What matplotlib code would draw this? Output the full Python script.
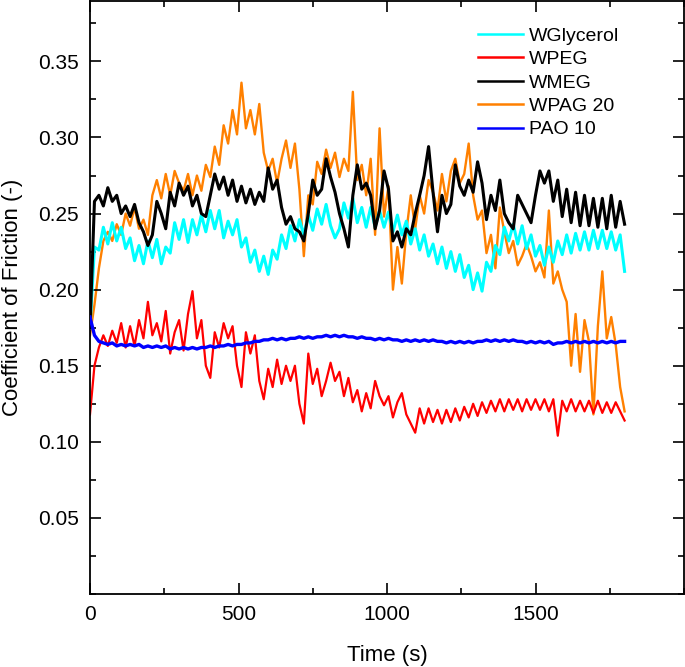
import numpy as np
import matplotlib
matplotlib.use("Agg")
import matplotlib.pyplot as plt
from matplotlib.ticker import MultipleLocator, FixedLocator

plt.rcParams['font.family'] = ['Liberation Sans', 'DejaVu Sans']

# values every 15 s, from 0 to 1800 s
wglycerol = [0.175, 0.228, 0.226, 0.241, 0.230, 0.244, 0.232, 0.241, 0.227, 0.234,
             0.219, 0.229, 0.217, 0.232, 0.221, 0.233, 0.217, 0.228, 0.224, 0.244,
             0.233, 0.246, 0.231, 0.246, 0.236, 0.249, 0.238, 0.252, 0.240, 0.252,
             0.234, 0.245, 0.236, 0.246, 0.228, 0.234, 0.218, 0.226, 0.212, 0.222,
             0.210, 0.226, 0.220, 0.236, 0.227, 0.242, 0.232, 0.246, 0.236, 0.249,
             0.239, 0.253, 0.243, 0.256, 0.242, 0.234, 0.240, 0.257, 0.247, 0.260,
             0.244, 0.254, 0.241, 0.254, 0.241, 0.252, 0.241, 0.251, 0.238, 0.249,
             0.236, 0.245, 0.230, 0.240, 0.226, 0.236, 0.222, 0.230, 0.217, 0.228,
             0.214, 0.225, 0.212, 0.223, 0.208, 0.216, 0.200, 0.211, 0.199, 0.218,
             0.212, 0.229, 0.223, 0.241, 0.232, 0.243, 0.230, 0.242, 0.227, 0.236,
             0.222, 0.229, 0.216, 0.228, 0.218, 0.232, 0.223, 0.236, 0.224, 0.237,
             0.226, 0.238, 0.226, 0.239, 0.227, 0.239, 0.227, 0.238, 0.226, 0.236,
             0.212]

wpeg = [0.118, 0.150, 0.162, 0.170, 0.163, 0.173, 0.165, 0.178, 0.162, 0.176,
        0.163, 0.180, 0.168, 0.192, 0.170, 0.178, 0.166, 0.186, 0.158, 0.172,
        0.180, 0.160, 0.184, 0.199, 0.168, 0.180, 0.150, 0.142, 0.172, 0.162,
        0.178, 0.168, 0.176, 0.150, 0.136, 0.172, 0.158, 0.170, 0.140, 0.128,
        0.148, 0.136, 0.154, 0.138, 0.150, 0.140, 0.150, 0.125, 0.112, 0.158,
        0.138, 0.148, 0.130, 0.140, 0.152, 0.140, 0.146, 0.130, 0.142, 0.126,
        0.134, 0.120, 0.132, 0.122, 0.140, 0.130, 0.124, 0.130, 0.116, 0.126,
        0.132, 0.118, 0.112, 0.106, 0.122, 0.112, 0.122, 0.113, 0.121, 0.112,
        0.121, 0.113, 0.122, 0.114, 0.123, 0.116, 0.125, 0.117, 0.126, 0.119,
        0.127, 0.120, 0.128, 0.120, 0.128, 0.121, 0.128, 0.120, 0.128, 0.121,
        0.128, 0.121, 0.128, 0.120, 0.128, 0.104, 0.127, 0.120, 0.128, 0.120,
        0.127, 0.120, 0.127, 0.119, 0.127, 0.119, 0.126, 0.119, 0.126, 0.120,
        0.114]

wmeg = [0.175, 0.258, 0.262, 0.255, 0.267, 0.258, 0.262, 0.250, 0.255, 0.248,
        0.256, 0.244, 0.238, 0.229, 0.236, 0.258, 0.250, 0.240, 0.264, 0.255,
        0.270, 0.262, 0.268, 0.255, 0.262, 0.250, 0.248, 0.262, 0.276, 0.266,
        0.274, 0.262, 0.272, 0.258, 0.268, 0.257, 0.266, 0.256, 0.264, 0.258,
        0.280, 0.266, 0.272, 0.254, 0.243, 0.248, 0.240, 0.238, 0.232, 0.250,
        0.272, 0.262, 0.266, 0.286, 0.274, 0.264, 0.250, 0.240, 0.228, 0.262,
        0.282, 0.266, 0.270, 0.262, 0.240, 0.252, 0.278, 0.266, 0.232, 0.238,
        0.228, 0.240, 0.236, 0.250, 0.262, 0.275, 0.294, 0.264, 0.238, 0.262,
        0.250, 0.256, 0.282, 0.268, 0.262, 0.272, 0.264, 0.284, 0.270, 0.246,
        0.262, 0.252, 0.272, 0.250, 0.244, 0.240, 0.262, 0.256, 0.250, 0.244,
        0.262, 0.278, 0.270, 0.278, 0.258, 0.272, 0.248, 0.266, 0.244, 0.264,
        0.242, 0.262, 0.242, 0.260, 0.241, 0.260, 0.240, 0.262, 0.241, 0.258,
        0.243]

wpag20 = [0.170, 0.190, 0.214, 0.232, 0.238, 0.232, 0.243, 0.236, 0.250, 0.242,
          0.254, 0.240, 0.246, 0.236, 0.262, 0.272, 0.260, 0.276, 0.262, 0.278,
          0.270, 0.265, 0.276, 0.262, 0.275, 0.265, 0.282, 0.274, 0.294, 0.282,
          0.308, 0.296, 0.318, 0.302, 0.336, 0.306, 0.318, 0.302, 0.322, 0.290,
          0.278, 0.286, 0.270, 0.286, 0.298, 0.280, 0.296, 0.266, 0.222, 0.262,
          0.256, 0.284, 0.276, 0.292, 0.280, 0.290, 0.274, 0.286, 0.278, 0.330,
          0.272, 0.282, 0.262, 0.286, 0.236, 0.306, 0.248, 0.268, 0.200, 0.228,
          0.204, 0.238, 0.262, 0.240, 0.262, 0.250, 0.272, 0.264, 0.252, 0.276,
          0.258, 0.278, 0.286, 0.270, 0.276, 0.296, 0.262, 0.246, 0.252, 0.224,
          0.236, 0.214, 0.254, 0.238, 0.224, 0.232, 0.216, 0.222, 0.230, 0.222,
          0.212, 0.218, 0.208, 0.252, 0.204, 0.212, 0.200, 0.192, 0.150, 0.184,
          0.146, 0.180, 0.166, 0.118, 0.176, 0.212, 0.168, 0.182, 0.164, 0.136,
          0.120]

pao10 = [0.182, 0.170, 0.166, 0.165, 0.164, 0.165, 0.163, 0.164, 0.163, 0.164,
         0.163, 0.164, 0.162, 0.163, 0.162, 0.163, 0.162, 0.163, 0.161, 0.162,
         0.161, 0.162, 0.161, 0.162, 0.161, 0.162, 0.162, 0.163, 0.162, 0.163,
         0.163, 0.164, 0.163, 0.164, 0.164, 0.165, 0.165, 0.166, 0.166, 0.167,
         0.167, 0.168, 0.167, 0.168, 0.167, 0.168, 0.168, 0.169, 0.168, 0.169,
         0.168, 0.169, 0.169, 0.170, 0.169, 0.170, 0.169, 0.170, 0.169, 0.169,
         0.168, 0.169, 0.168, 0.168, 0.167, 0.168, 0.167, 0.168, 0.167, 0.167,
         0.166, 0.167, 0.166, 0.167, 0.166, 0.167, 0.166, 0.167, 0.166, 0.166,
         0.165, 0.166, 0.165, 0.166, 0.165, 0.166, 0.165, 0.166, 0.166, 0.167,
         0.166, 0.167, 0.166, 0.167, 0.166, 0.167, 0.166, 0.166, 0.165, 0.166,
         0.165, 0.166, 0.165, 0.166, 0.164, 0.165, 0.165, 0.166, 0.165, 0.166,
         0.165, 0.166, 0.165, 0.166, 0.165, 0.166, 0.165, 0.166, 0.165, 0.166,
         0.166]

labels = ['WGlycerol', 'WPEG', 'WMEG', 'WPAG 20', 'PAO 10']
colors = ['#00FFFF', '#FF0000', '#000000', '#FF8000', '#0000FF']
series = [wglycerol, wpeg, wmeg, wpag20, pao10]
zorders = [3, 2, 4, 1, 5]
widths = [2.2, 1.6, 2.2, 1.7, 2.4]

fig = plt.figure(figsize=(6.85, 6.67), dpi=100)
ax = fig.add_axes([90 / 685, 73 / 667, 594 / 685, 593.5 / 667])

for vals, lab, c, z, w in zip(series, labels, colors, zorders, widths):
    t = np.linspace(0, 1800, len(vals))
    ax.plot(t, vals, color=c, lw=w, label=lab, zorder=z)

ax.set_xlim(0, 2000)
ax.set_ylim(0, 0.39)
ax.xaxis.set_major_locator(FixedLocator([0, 500, 1000, 1500]))
ax.xaxis.set_minor_locator(MultipleLocator(250))
ax.yaxis.set_major_locator(FixedLocator([0.05, 0.10, 0.15, 0.20, 0.25, 0.30, 0.35]))
ax.yaxis.set_minor_locator(MultipleLocator(0.025))
ax.yaxis.set_major_formatter(matplotlib.ticker.FormatStrFormatter('%.2f'))

ax.tick_params(which='both', direction='in', top=True, right=True, width=1.2,
               labelsize=15)
ax.tick_params(which='major', length=8, pad=8)
ax.tick_params(which='minor', length=4.5)
for s in ax.spines.values():
    s.set_linewidth(1.3)

ax.set_xlabel('Time (s)', fontsize=16, labelpad=15)
ax.set_ylabel('Coefficient of Friction (-)', fontsize=16, labelpad=11)

leg = ax.legend(loc='upper left', bbox_to_anchor=(478 / 685, 1 - 27 / 667),
                bbox_transform=fig.transFigure, frameon=False, fontsize=14,
                handlelength=2.3, handletextpad=0.3, labelspacing=0.3,
                borderpad=0, borderaxespad=0)
for h in leg.get_lines():
    h.set_linewidth(1.8)

fig.savefig('out.png', dpi=100)
